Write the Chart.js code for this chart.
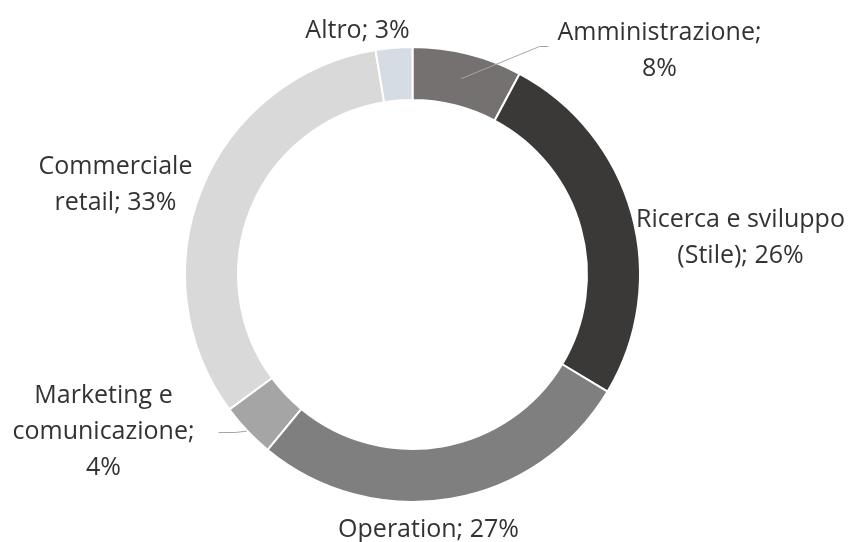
<!DOCTYPE html>
<html>
<head>
<meta charset="utf-8">
<script src="https://cdn.jsdelivr.net/npm/chart.js@4.4.1/dist/chart.umd.min.js"></script>
<style>
    body { margin: 0; background: #fff; }
    #wrap { width: 848px; height: 542px; }
</style>
</head>
<body>
<div id="wrap"><canvas id="torta" width="848" height="542"></canvas></div>
<script>
// dati (in %)
const reparti = [
    ['Amministrazione;'],
    ['Ricerca e sviluppo', '(Stile);'],
    ['Operation;'],
    ['Marketing e', 'comunicazione;'],
    ['Commerciale', 'retail;'],
    ['Altro;']
];
const quote = [7.8, 25.8, 27.4, 3.9, 32.5, 2.6];
const colori = ['#767171', '#3b3838', '#7f7f7f', '#a5a5a5', '#d9d9d9', '#d6dce4'];

// posizione etichette rispetto al centro (dx, dy prima riga), se la % va a capo, linea guida
const posEtichette = [
    { dx: 247, dy: -235, aCapo: true, guida: { r: 202, gomito: [127, -228], fine: [136, -228] } },
    { dx: 328, dy: -48, aCapo: false },
    { dx: 16, dy: 262, aCapo: false },
    { dx: -309, dy: 128, aCapo: true, guida: { r: 228, gomito: [-177, 158], fine: [-194, 158] } },
    { dx: -297, dy: -101, aCapo: false },
    { dx: -55, dy: -237, aCapo: false }
];

const etichettePlugin = {
    id: 'etichette',
    afterDatasetsDraw(chart) {
        const ctx = chart.ctx;
        const meta = chart.getDatasetMeta(0);
        ctx.save();
        ctx.font = '25px "Open Sans"';
        ctx.fillStyle = '#333333';
        ctx.textAlign = 'center';
        ctx.textBaseline = 'alphabetic';
        meta.data.forEach((arc, i) => {
            const p = arc.getProps(['x', 'y', 'startAngle', 'endAngle']);
            const pos = posEtichette[i];
            if (pos.guida) {
                const mid = (p.startAngle + p.endAngle) / 2;
                ctx.beginPath();
                ctx.moveTo(p.x + pos.guida.r * Math.cos(mid), p.y + pos.guida.r * Math.sin(mid));
                ctx.lineTo(p.x + pos.guida.gomito[0], p.y + pos.guida.gomito[1]);
                ctx.lineTo(p.x + pos.guida.fine[0], p.y + pos.guida.fine[1]);
                ctx.strokeStyle = '#a6a6a6';
                ctx.lineWidth = 1;
                ctx.stroke();
            }
            let righe = reparti[i].slice();
            const perc = Math.round(quote[i]) + '%';
            if (pos.aCapo) {
                righe.push(perc);
            } else {
                righe[righe.length - 1] += ' ' + perc;
            }
            righe.forEach((r, k) => {
                ctx.fillText(r, p.x + pos.dx, p.y + pos.dy + k * 36);
            });
        });
        ctx.restore();
    }
};

new Chart(document.getElementById('torta'), {
    type: 'doughnut',
    data: {
        labels: reparti.map(r => r.join(' ')),
        datasets: [{
            data: quote,
            backgroundColor: colori,
            borderColor: '#ffffff',
            borderWidth: 2
        }]
    },
    options: {
        responsive: false,
        animation: false,
        cutout: '76.7%',
        layout: { padding: { left: 184, right: 207, top: 46, bottom: 39 } },
        plugins: {
            legend: { display: false },
            tooltip: { enabled: false }
        }
    },
    plugins: [etichettePlugin]
});
</script>
</body>
</html>
